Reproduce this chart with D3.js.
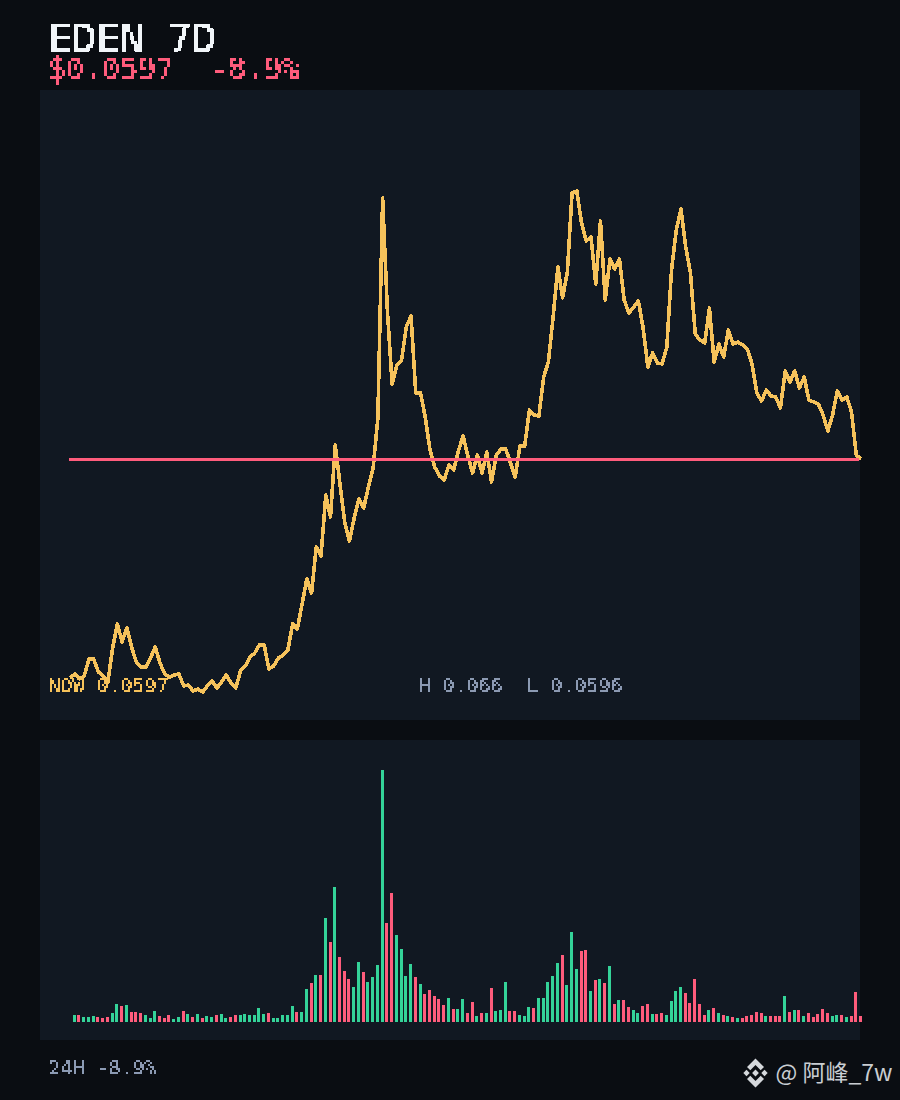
<!DOCTYPE html>
<html>
<head>
<meta charset="utf-8">
<script src="https://cdn.jsdelivr.net/npm/d3@7"></script>
<style>
html, body { margin: 0; padding: 0; background: #0a0d12; }
svg { display: block; }
text { font-family: "DejaVu Sans Mono", monospace; }
</style>
</head>
<body>
<div id="chart"></div>
<script>
// price, in chart units above the 7d low
var closeIndex = [
	14,18,13,16,33,33,20,16,10,44,
	68,50,64,45,30,25,25,34,45,29,
	18,15,17,18,6,7,1,3,0,6,
	11,4,10,17,9,4,21,26,35,39,
	47,47,23,26,34,37,42,68,63,88,
	113,99,145,136,197,175,247,208,170,151,
	174,193,184,205,224,274,494,382,308,327,
	332,365,376,299,299,275,242,225,216,212,
	227,222,241,256,236,219,237,219,240,210,
	237,243,243,229,215,246,246,282,277,276,
	315,330,375,425,394,420,499,501,469,451,
	455,408,471,392,433,423,433,392,379,385,
	391,364,325,339,329,328,345,422,462,483,
	445,419,358,352,349,384,330,348,335,362,
	348,350,347,343,328,299,291,302,296,295,
	284,321,310,321,304,315,292,290,288,277,
	261,277,301,292,295,280,237,233
];
var refLevel = 233;

var volumes = [
	7,7,5,5,6,5,4,5,9,18,
	16,17,10,10,9,7,4,11,6,4,
	7,3,5,11,8,5,8,4,6,5,
	7,8,4,5,7,7,8,7,7,14,
	8,9,4,4,7,7,16,10,10,
	33,39,47,47,104,80,135,65,51,43,
	35,60,50,40,45,57,252,99,129,87,
	73,46,58,45,38,28,32,26,23,17,
	24,13,13,23,9,20,6,9,9,34,
	11,12,40,11,11,7,6,15,14,24,
	24,40,46,59,67,37,90,53,71,72,
	31,42,43,
	39,56,18,22,22,15,12,9,16,18,
	8,8,9,7,21,31,35,29,19,43,
	18,7,12,14,9,7,6,5,4,4,
	6,7,10,9,6,6,6,6,26,10,
	12,12,6,9,5,8,13,9,6,7,
	7,5,6,30,6
];
// 1 = green bar, 0 = red bar
var volumeUp = [
	1,0,1,1,1,0,0,0,1,1,
	0,1,0,0,0,1,1,1,0,0,
	0,1,1,0,1,0,1,0,1,1,
	0,1,1,0,0,1,1,1,1,1,
	1,0,1,1,1,1,1,0,1,
	1,0,1,0,1,0,1,0,0,0,
	1,1,0,1,1,1,1,0,0,1,
	1,1,1,0,1,0,0,0,0,0,
	1,0,1,1,0,0,1,0,1,0,
	1,1,1,0,0,1,1,1,0,1,
	1,1,1,1,0,1,1,1,0,0,
	1,0,1,
	0,1,0,1,0,0,1,1,0,0,
	1,0,0,1,1,1,1,0,0,0,
	0,0,1,0,1,0,1,0,1,0,
	0,0,0,0,1,0,0,0,1,0,
	1,0,1,0,0,0,0,0,1,1,
	0,1,0,0,0
];

var titleText = "EDEN 7D";
var priceText = "$0.0597  -8.9%";
var nowText = "NOW 0.0597";
var rangeText = "H 0.066  L 0.0596";
var footText = "24H -8.9%";
var markText = "@ 阿峰_7w";

var bgPanel = "#111822", yellow = "#f6c25b", pink = "#ff5c7c", green = "#34d399", slate = "#8c9ab3";

var svg = d3.select("#chart").append("svg")
	.attr("width", 900)
	.attr("height", 1100);

svg.append("rect").attr("width", 900).attr("height", 1100).attr("fill", "#0a0d12");

// filters that snap the text to a coarse pixel grid: soften, threshold, sample one dot per cell, grow the dot back
var defs = svg.append("defs");
function pixelFilter(id, cell, dot, radius, ox, oy, blur, table){
	var f = defs.append("filter").attr("id", id)
		.attr("filterUnits", "userSpaceOnUse")
		.attr("x", 0).attr("y", 0).attr("width", 900).attr("height", 1100)
		.attr("color-interpolation-filters", "sRGB");
	f.append("feGaussianBlur").attr("in", "SourceGraphic").attr("stdDeviation", blur).attr("result", "soft");
	var hard = f.append("feComponentTransfer").attr("in", "soft").attr("result", "hard");
	hard.append("feFuncA").attr("type", "discrete").attr("tableValues", table);
	f.append("feFlood").attr("x", ox).attr("y", oy).attr("width", dot).attr("height", dot).attr("flood-color", "#fff");
	f.append("feComposite").attr("x", ox).attr("y", oy).attr("width", cell).attr("height", cell);
	f.append("feTile").attr("result", "grid");
	f.append("feComposite").attr("in", "hard").attr("in2", "grid").attr("operator", "in").attr("result", "dots");
	if (radius > 0) {
		f.append("feMorphology").attr("in", "dots").attr("operator", "dilate").attr("radius", radius);
	} else {
		// 2px cell, radius 1 would give 3px so copy the dot sideways and down
		f.append("feOffset").attr("in", "dots").attr("dx", 1).attr("dy", 0).attr("result", "d1");
		var m1 = f.append("feMerge").attr("result", "row");
		m1.append("feMergeNode").attr("in", "dots");
		m1.append("feMergeNode").attr("in", "d1");
		f.append("feOffset").attr("in", "row").attr("dx", 0).attr("dy", 1).attr("result", "d2");
		var m2 = f.append("feMerge");
		m2.append("feMergeNode").attr("in", "row");
		m2.append("feMergeNode").attr("in", "d2");
	}
}
pixelFilter("px4", 4, 2, 1, 51, 25, 0.7, "0 0 0 0 0 1 1 1 1 1");
pixelFilter("px3", 3, 1, 1, 51, 59, 0.6, "0 0 0 0 1 1 1 1 1 1");
pixelFilter("px2", 2, 1, 0, 50, 678, 0.35, "0 0 0 0 1 1 1 1 1 1");

function label(txt, x, y, advance, color, filter){
	svg.append("text")
		.attr("x", x)
		.attr("y", y)
		.attr("xml:space", "preserve")
		.style("white-space", "pre")
		.style("font-size", (advance / 0.602) + "px")
		.attr("fill", color)
		.attr("filter", "url(#" + filter + ")")
		.text(txt);
}

// panels
svg.append("rect").attr("x", 40).attr("y", 90).attr("width", 820).attr("height", 630).attr("fill", bgPanel);
svg.append("rect").attr("x", 40).attr("y", 740).attr("width", 820).attr("height", 300).attr("fill", bgPanel);

label(titleText, 48, 52, 24, "#f1f5f9", "px4");
label(priceText, 48, 79, 18, pink, "px3");

var x = d3.scaleLinear().domain([0, closeIndex.length - 1]).range([70, 861]);
var y = d3.scaleLinear().domain([0, d3.max(closeIndex)]).range([692, 191]);
var yVol = d3.scaleLinear().domain([0, d3.max(volumes)]).range([1022, 770]);

var line = d3.line()
	.x(function(d, i){ return x(i); })
	.y(function(d){ return y(d); });

svg.append("path")
	.datum(closeIndex)
	.attr("d", line)
	.attr("fill", "none")
	.attr("stroke", yellow)
	.attr("stroke-width", 3.6)
	.attr("stroke-linejoin", "round")
	.attr("shape-rendering", "crispEdges");

svg.append("line")
	.attr("x1", 69).attr("x2", 859)
	.attr("y1", y(refLevel)).attr("y2", y(refLevel))
	.attr("stroke", pink)
	.attr("stroke-width", 3)
	.attr("shape-rendering", "crispEdges");

label(nowText, 48, 692, 12, yellow, "px2");
label(rangeText, 418, 692, 12, slate, "px2");

svg.selectAll("rect.vol")
	.data(volumes)
	.enter()
	.append("rect")
	.attr("class", "vol")
	.attr("x", function(d, i){ return Math.round(x(i + 1) - 2); })
	.attr("y", function(d){ return yVol(d); })
	.attr("width", 3)
	.attr("height", function(d){ return yVol(0) - yVol(d); })
	.attr("fill", function(d, i){ return volumeUp[i] ? green : pink; })
	.attr("shape-rendering", "crispEdges");

label(footText, 48, 1074, 12, slate, "px2");

// watermark
var mark = svg.append("g").attr("transform", "translate(755.5,1073)").attr("fill", "#d5d8dc");
mark.append("path").attr("d", "M0,-14.5 L8.5,-6 L5.2,-2.7 L0,-8 L-5.2,-2.7 L-8.5,-6 Z");
mark.append("path").attr("d", "M0,14.5 L8.5,6 L5.2,2.7 L0,8 L-5.2,2.7 L-8.5,6 Z");
mark.append("path").attr("d", "M0,-3.4 L3.4,0 L0,3.4 L-3.4,0 Z");
mark.append("path").attr("d", "M-9,-3.2 L-5.8,0 L-9,3.2 L-12.2,0 Z");
mark.append("path").attr("d", "M9,-3.2 L12.2,0 L9,3.2 L5.8,0 Z");
svg.append("text")
	.attr("x", 775.5)
	.attr("y", 1081)
	.style("font-family", "'Noto Sans CJK SC', 'Noto Sans', sans-serif")
	.style("font-size", "23px")
	.attr("fill", "#c9cdd2")
	.text(markText);
</script>
</body>
</html>
